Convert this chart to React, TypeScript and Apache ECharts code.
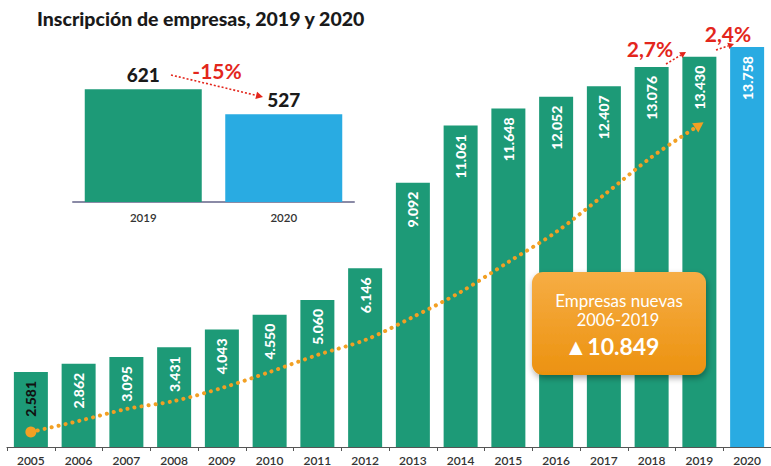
import React, { useEffect, useRef } from "react";
import * as echarts from "echarts";

const years = ["2005","2006","2007","2008","2009","2010","2011","2012","2013","2014","2015","2016","2017","2018","2019","2020"];
const registrations = [2581,2862,3095,3431,4043,4550,5060,6146,9092,11061,11648,12052,12407,13076,13430,13758];
const trendCurve = [516,894,1307,1582,2030,2580,3165,3681,4472,5332,6364,7396,8669,9976,11077];
const insetYears = ["2019","2020"];
const insetValues = [621,527];

const GREEN = "#1d9a77";
const BLUE = "#29abe2";
const RED = "#e3261c";
const ORANGE = "#f2a023";
const FONT = "Lato, 'Open Sans', sans-serif";

const fmt = (v: number) => v.toLocaleString("de-DE");

function arrow(x1: number, y1: number, x2: number, y2: number, color: string, size = 7) {
  const a = Math.atan2(y2 - y1, x2 - x1);
  const bx = x2 - size * Math.cos(a);
  const by = y2 - size * Math.sin(a);
  const w = size * 0.55;
  return [
    { type: "line", shape: { x1, y1, x2: bx, y2: by }, style: { stroke: color, lineWidth: 1.6, lineDash: [2, 2] }, z: 20 },
    {
      type: "polygon",
      shape: { points: [[x2, y2], [bx + w * Math.sin(a), by - w * Math.cos(a)], [bx - w * Math.sin(a), by + w * Math.cos(a)]] },
      style: { fill: color },
      z: 20,
    },
  ];
}

export default function App() {
  const ref = useRef<HTMLDivElement>(null);
  useEffect(() => {
    if (!ref.current) return;
    const chart = echarts.init(ref.current, undefined, { renderer: "svg" });
    const lineData: any[] = trendCurve.map((v, i) => {
      if (i === 0) return { value: v, symbol: "circle", symbolSize: 11 };
      if (i === trendCurve.length - 1) return { value: v, symbol: "triangle", symbolSize: [11, 10], symbolRotate: -56 };
      return { value: v, symbol: "none" };
    });
    chart.setOption({
      animation: false,
      textStyle: { fontFamily: FONT },
      grid: [
        { left: 7, width: 768, top: 11, height: 436 },
        { left: 73, width: 281, top: 68, height: 134 },
      ],
      xAxis: [
        {
          type: "category",
          data: years,
          gridIndex: 0,
          axisLine: { lineStyle: { color: "#555", width: 1.2 } },
          axisTick: { show: true, length: 4, lineStyle: { color: "#555" } },
          axisLabel: { color: "#333", fontSize: 12, fontWeight: 600, margin: 7, fontFamily: FONT },
        },
        {
          type: "category",
          data: insetYears,
          gridIndex: 1,
          axisLine: { lineStyle: { color: "#8a8aa6", width: 2 } },
          axisTick: { show: false },
          axisLabel: { color: "#333", fontSize: 11.5, fontWeight: 600, margin: 9, fontFamily: FONT },
        },
      ],
      yAxis: [
        { type: "value", gridIndex: 0, min: 0, max: 15000, show: false },
        { type: "value", gridIndex: 1, min: 200, max: 700, show: false },
      ],
      series: [
        {
          type: "bar",
          xAxisIndex: 0,
          yAxisIndex: 0,
          barWidth: 34,
          data: registrations.map((v, i) => ({
            value: v,
            itemStyle: { color: i === registrations.length - 1 ? BLUE : GREEN },
            label: i === 0 ? { color: "#111" } : undefined,
          })),
          label: {
            show: true,
            position: "insideTop",
            rotate: 90,
            align: "right",
            verticalAlign: "middle",
            distance: 9,
            color: "#fff",
            fontSize: 14,
            fontWeight: 900,
            fontFamily: FONT,
            formatter: (p: any) => fmt(p.value),
          },
          z: 2,
        },
        {
          type: "line",
          xAxisIndex: 0,
          yAxisIndex: 0,
          smooth: 0.3,
          data: lineData,
          itemStyle: { color: ORANGE },
          lineStyle: { color: ORANGE, width: 4, type: [0.1, 7], cap: "round" },
          z: 5,
        },
        {
          type: "bar",
          xAxisIndex: 1,
          yAxisIndex: 1,
          barWidth: 117,
          data: insetValues.map((v, i) => ({ value: v, itemStyle: { color: i === 0 ? GREEN : BLUE } })),
          label: {
            show: true,
            position: "top",
            distance: 5,
            color: "#1a1a1a",
            fontSize: 19,
            fontWeight: 900,
            fontFamily: FONT,
          },
        },
      ],
      graphic: [
        {
          type: "text",
          left: 37,
          top: 8,
          style: { text: "Inscripción de empresas, 2019 y 2020", fill: "#1a1a1a", font: `900 19.5px ${FONT}` },
          z: 20,
        },
        {
          type: "text",
          x: 217,
          y: 70,
          style: { text: "-15%", fill: RED, font: `bold 21px ${FONT}`, align: "center", verticalAlign: "middle" },
          z: 20,
        },
        ...arrow(171, 75, 263, 97, RED),
        {
          type: "text",
          x: 650,
          y: 48,
          style: { text: "2,7%", fill: RED, font: `bold 21px ${FONT}`, align: "center", verticalAlign: "middle" },
          z: 20,
        },
        ...arrow(666, 64, 686, 52, RED, 6),
        {
          type: "text",
          x: 728,
          y: 33,
          style: { text: "2,4%", fill: RED, font: `bold 21px ${FONT}`, align: "center", verticalAlign: "middle" },
          z: 20,
        },
        ...arrow(716, 50, 734, 44, RED, 6),
        {
          type: "rect",
          shape: { x: 532, y: 272, width: 174, height: 103, r: 11 },
          style: {
            fill: new echarts.graphic.LinearGradient(0, 0, 0, 1, [
              { offset: 0, color: "#f6ad44" },
              { offset: 1, color: "#ec9210" },
            ]),
            shadowBlur: 6,
            shadowOffsetY: 3,
            shadowOffsetX: 1,
            shadowColor: "rgba(0,0,0,0.35)",
          },
          z: 30,
        },
        {
          type: "text",
          x: 619,
          y: 300,
          style: { text: "Empresas nuevas", fill: "#fff", font: `17px ${FONT}`, align: "center", verticalAlign: "middle" },
          z: 31,
        },
        {
          type: "text",
          x: 618,
          y: 320,
          style: { text: "2006-2019", fill: "#fff", font: `16.5px ${FONT}`, align: "center", verticalAlign: "middle" },
          z: 31,
        },
        {
          type: "text",
          x: 612,
          y: 346,
          style: { text: "▲10.849", fill: "#fff", font: `bold 23px ${FONT}`, align: "center", verticalAlign: "middle" },
          z: 31,
        },
      ],
    });
    return () => chart.dispose();
  }, []);
  return <div ref={ref} style={{ width: 771, height: 466, position: "absolute", left: 0, top: 0 }} />;
}
